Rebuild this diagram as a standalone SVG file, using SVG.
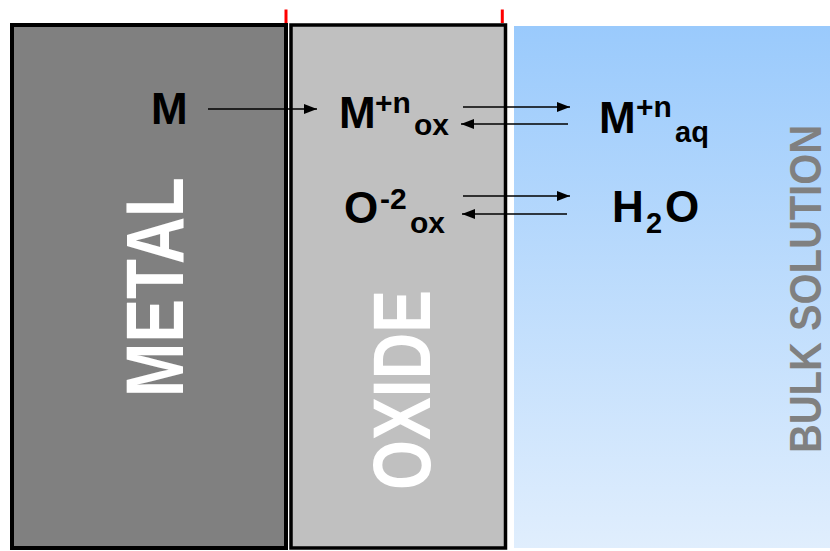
<svg xmlns="http://www.w3.org/2000/svg" width="830" height="551" viewBox="0 0 830 551">
<style>
.lbl{font-family:"Liberation Sans",Arial,sans-serif;font-weight:bold;fill:#000}
.big{font-family:"Liberation Sans",Arial,sans-serif;font-weight:bold;text-anchor:middle}
.cn{stroke:#000;stroke-width:1.6;fill:none}
</style>
<defs>
<linearGradient id="bulk" x1="0" y1="0" x2="0" y2="1">
<stop offset="0" stop-color="#9acafc"/>
<stop offset="1" stop-color="#e0eefd"/>
</linearGradient>
<marker id="ah" markerUnits="userSpaceOnUse" markerWidth="14" markerHeight="12" refX="13" refY="5" orient="auto">
<path d="M0,0 L13,5 L0,10 Z" fill="#000"/>
</marker>
</defs>
<rect width="830" height="551" fill="#fff"/>
<g id="bulk-solution">
<rect x="514" y="26" width="316" height="522" fill="url(#bulk)"/>
<text class="big" transform="translate(821,289) rotate(-90)" font-size="45" fill="#808080" textLength="328" lengthAdjust="spacingAndGlyphs">BULK SOLUTION</text>
</g>
<g id="metal">
<rect x="12" y="25" width="274" height="523" fill="#808080" stroke="#000" stroke-width="4"/>
<text class="big" transform="translate(183,287) rotate(-90)" font-size="81" fill="#fff" textLength="220" lengthAdjust="spacingAndGlyphs">METAL</text>
</g>
<g id="oxide">
<rect x="291" y="25" width="214.5" height="523" fill="#c0c0c0" stroke="#000" stroke-width="3.5"/>
<text class="big" transform="translate(430,390) rotate(-90)" font-size="81" fill="#fff" textLength="200" lengthAdjust="spacingAndGlyphs">OXIDE</text>
</g>
<g id="interface-marks">
<line x1="286" y1="9.5" x2="286" y2="23" stroke="#f00" stroke-width="3"/>
<line x1="502.3" y1="9.5" x2="502.3" y2="23" stroke="#f00" stroke-width="3"/>
</g>
<g id="species-M">
<text class="lbl" x="151" y="124" font-size="44">M</text>
</g>
<g id="species-Mox">
<text class="lbl" x="339" y="128" font-size="44">M</text>
<text class="lbl" x="375" y="113" font-size="30">+n</text>
<text class="lbl" x="414" y="135" font-size="30">ox</text>
</g>
<g id="species-Maq">
<text class="lbl" x="599" y="133" font-size="44">M</text>
<text class="lbl" x="636" y="117" font-size="30">+n</text>
<text class="lbl" x="675" y="142" font-size="29">aq</text>
</g>
<g id="species-Oox">
<text class="lbl" x="344" y="223" font-size="44">O</text>
<text class="lbl" x="380" y="209" font-size="30">-2</text>
<text class="lbl" x="410" y="233" font-size="30">ox</text>
</g>
<g id="species-H2O">
<text class="lbl" x="612" y="222" font-size="44">H</text>
<text class="lbl" x="646" y="233" font-size="29">2</text>
<text class="lbl" x="665" y="222" font-size="44">O</text>
</g>
<g id="connectors">
<line class="cn" x1="208" y1="109" x2="317" y2="109" marker-end="url(#ah)"/>
<line class="cn" x1="463" y1="107" x2="570" y2="107" marker-end="url(#ah)"/>
<line class="cn" x1="568" y1="124" x2="461" y2="124" marker-end="url(#ah)"/>
<line class="cn" x1="463" y1="196" x2="570" y2="196" marker-end="url(#ah)"/>
<line class="cn" x1="567" y1="214" x2="462" y2="214" marker-end="url(#ah)"/>
</g>
</svg>
